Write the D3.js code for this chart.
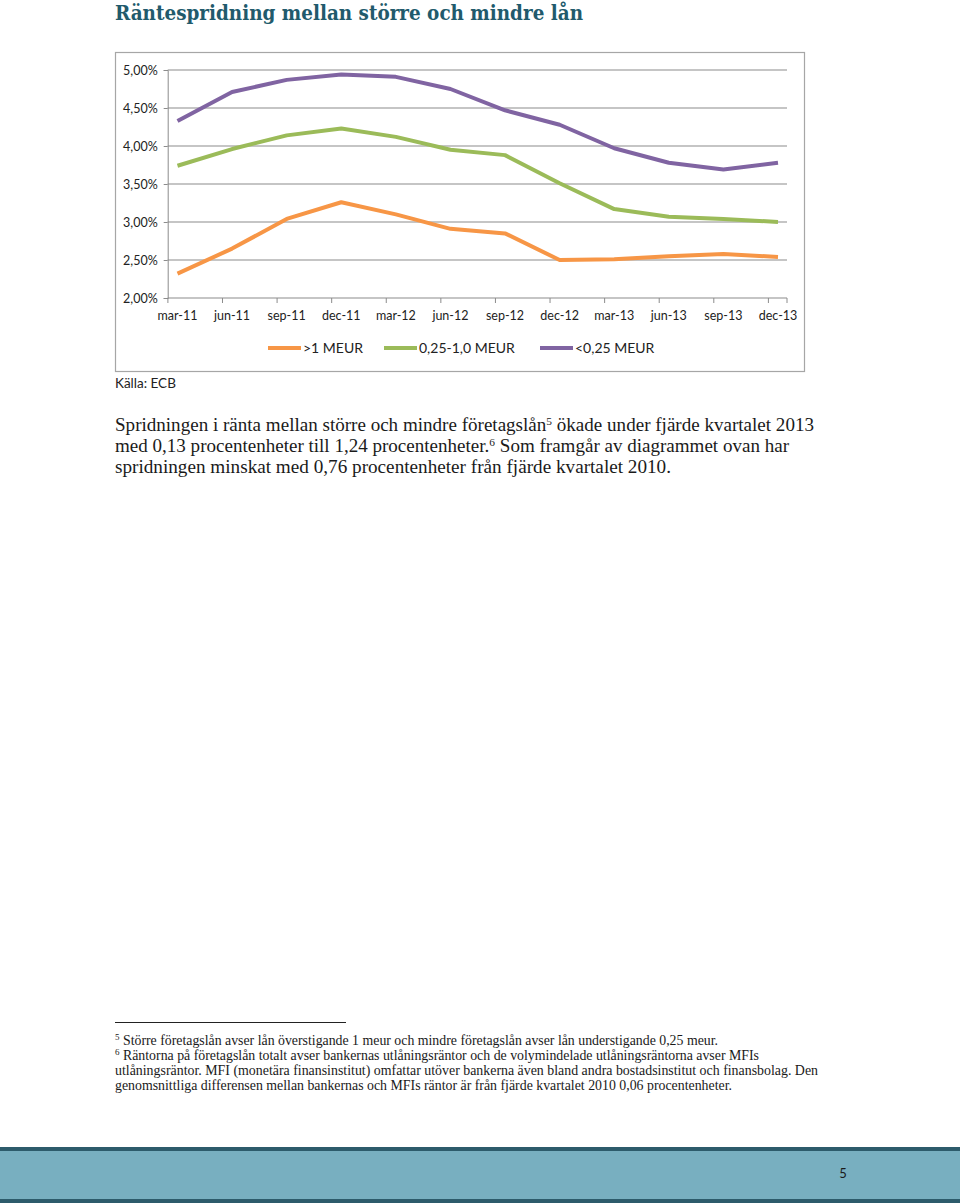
<!DOCTYPE html>
<html><head><meta charset="utf-8">
<script src="https://cdn.jsdelivr.net/npm/d3@7"></script>
<style>html,body{margin:0;padding:0;background:#fff;}svg{display:block;}</style>
</head><body>
<svg id="page" width="960" height="1203"></svg>
<script>
const categories = ["mar-11","jun-11","sep-11","dec-11","mar-12","jun-12","sep-12","dec-12","mar-13","jun-13","sep-13","dec-13"];
const seriesLarge = [2.32,2.65,3.04,3.26,3.10,2.91,2.85,2.50,2.51,2.55,2.58,2.54];
const seriesMid   = [3.74,3.96,4.14,4.23,4.12,3.95,3.88,3.51,3.17,3.07,3.04,3.00];
const seriesSmall = [4.33,4.71,4.87,4.94,4.91,4.75,4.47,4.28,3.97,3.78,3.69,3.78];
const seriesNames = [">1 MEUR","0,25-1,0 MEUR","<0,25 MEUR"];
const yTicks = [2.0,2.5,3.0,3.5,4.0,4.5,5.0];

const colors = ["#f79646","#9bbb59","#8064a2"];
const series = [seriesLarge, seriesMid, seriesSmall];

const svg = d3.select("#page");
svg.append("rect").attr("width",960).attr("height",1203).attr("fill","#fff");

const serif = "'Liberation Serif','DejaVu Serif',serif";
const sans = "Lato,'Open Sans',sans-serif";

// Title
const title = svg.append("text").attr("x",115).attr("y",20).attr("font-family","'DejaVu Serif',serif")
  .attr("font-weight","bold").attr("font-size",21).attr("fill","#215a6c")
  .text("Räntespridning mellan större och mindre lån");
title.attr("textLength",468).attr("lengthAdjust","spacingAndGlyphs");

// Chart box
svg.append("rect").attr("x",115.5).attr("y",52.5).attr("width",689).attr("height",319)
  .attr("fill","none").attr("stroke","#a6a6a6").attr("stroke-width",1.2);

const x = d3.scalePoint().domain(categories).range([177.5,778]);
const y = d3.scaleLinear().domain([2,5]).range([298,70]);
const axisLeft = 167.7, plotRight = 787;

// gridlines
svg.append("g").selectAll("line").data(yTicks.filter(d=>d>2)).join("line")
  .attr("x1",axisLeft).attr("x2",plotRight).attr("y1",d=>y(d)).attr("y2",d=>y(d))
  .attr("stroke","#8c8c8c").attr("stroke-width",1.1);

// y axis
const yAxis = svg.append("g").attr("transform",`translate(${axisLeft},0)`)
  .call(d3.axisLeft(y).tickValues(yTicks).tickSize(4).tickPadding(6)
    .tickFormat(d=>d3.format(".2f")(d).replace(".",",")+"%"));
yAxis.select(".domain").attr("stroke","#8c8c8c");
yAxis.selectAll(".tick line").attr("stroke","#8c8c8c");
yAxis.selectAll("text").attr("font-family",sans).attr("font-size",12.5).attr("fill","#222");

// x axis
svg.append("line").attr("x1",axisLeft).attr("x2",plotRight).attr("y1",y(2)).attr("y2",y(2))
  .attr("stroke","#8c8c8c").attr("stroke-width",1.1);
const tickXs = categories.map(c=>x(c)-9.6).concat([plotRight]);
svg.append("g").selectAll("line").data(tickXs).join("line")
  .attr("x1",d=>d).attr("x2",d=>d).attr("y1",y(2)).attr("y2",y(2)+5)
  .attr("stroke","#8c8c8c");
svg.append("g").selectAll("text").data(categories).join("text")
  .attr("x",d=>x(d)).attr("y",320).attr("text-anchor","middle")
  .attr("font-family",sans).attr("font-size",12.5).attr("fill","#222").text(d=>d);

// lines
const line = d3.line().x((d,i)=>x(categories[i])).y(d=>y(d));
series.forEach((s,k)=>{
  svg.append("path").datum(s).attr("d",line).attr("fill","none")
    .attr("stroke",colors[k]).attr("stroke-width",4).attr("stroke-linejoin","round");
});

// legend
const legendX = [268,384,540];
seriesNames.forEach((n,k)=>{
  svg.append("line").attr("x1",legendX[k]).attr("x2",legendX[k]+33).attr("y1",348).attr("y2",348)
    .attr("stroke",colors[k]).attr("stroke-width",4);
  svg.append("text").attr("x",legendX[k]+35).attr("y",353).attr("font-family",sans)
    .attr("font-size",14).attr("fill","#222").text(n);
});

// source
svg.append("text").attr("x",115).attr("y",388).attr("font-family",sans).attr("font-size",13.5)
  .attr("fill","#222").text("Källa: ECB");

// Body paragraph
const bodyLines = [
  [["Spridningen i ränta mellan större och mindre företagslån",0],["5",1],[" ökade under fjärde kvartalet 2013",0]],
  [["med 0,13 procentenheter till 1,24 procentenheter.",0],["6",1],[" Som framgår av diagrammet ovan har",0]],
  [["spridningen minskat med 0,76 procentenheter från fjärde kvartalet 2010.",0]]
];
const bodyTargets = [699, 674, 556];
const bodyYs = [431, 452, 473];
bodyLines.forEach((ln,i)=>{
  const t = svg.append("text").attr("x",115).attr("y",bodyYs[i]).attr("font-family",serif)
    .attr("font-size",18.5).attr("fill","#1a1a1a");
  ln.forEach(([s,sup],j)=>{
    const ts = t.append("tspan").text(s);
    if(sup) ts.attr("font-size","0.6em").attr("dy",-6);
    else if(j>0 && ln[j-1][1]) ts.attr("dy",6);
  });
  t.attr("textLength",bodyTargets[i]).attr("lengthAdjust","spacingAndGlyphs");
});

// footnote separator
svg.append("line").attr("x1",115).attr("x2",346).attr("y1",1022.5).attr("y2",1022.5)
  .attr("stroke","#222").attr("stroke-width",1);

const footLines = [
  [["5",1],[" Större företagslån avser lån överstigande 1 meur och mindre företagslån avser lån understigande 0,25 meur.",0]],
  [["6",1],[" Räntorna på företagslån totalt avser bankernas utlåningsräntor och de volymindelade utlåningsräntorna avser MFIs",0]],
  [["utlåningsräntor. MFI (monetära finansinstitut) omfattar utöver bankerna även bland andra bostadsinstitut och finansbolag. Den",0]],
  [["genomsnittliga differensen mellan bankernas och MFIs räntor är från fjärde kvartalet 2010 0,06 procentenheter.",0]]
];
const footTargets = [603, 644, 703, 617];
const footYs = [1045, 1060, 1075, 1090];
footLines.forEach((ln,i)=>{
  const t = svg.append("text").attr("x",115).attr("y",footYs[i]).attr("font-family",serif)
    .attr("font-size",14).attr("fill","#1a1a1a");
  ln.forEach(([s,sup],j)=>{
    const ts = t.append("tspan").text(s);
    if(sup) ts.attr("font-size","0.65em").attr("dy",-5);
    else if(j>0 && ln[j-1][1]) ts.attr("dy",5);
  });
  t.attr("textLength",footTargets[i]).attr("lengthAdjust","spacingAndGlyphs");
});

// footer bar
svg.append("rect").attr("x",0).attr("y",1148).attr("width",960).attr("height",52).attr("fill","#78afc0");
svg.append("rect").attr("x",0).attr("y",1147).attr("width",960).attr("height",4).attr("fill","#2d5b6b");
svg.append("rect").attr("x",0).attr("y",1199).attr("width",960).attr("height",4).attr("fill","#2d5b6b");
svg.append("text").attr("x",843).attr("y",1178).attr("text-anchor","middle").attr("font-family",sans)
  .attr("font-size",13).attr("fill","#1a1a1a").text("5");
</script>
</body></html>
